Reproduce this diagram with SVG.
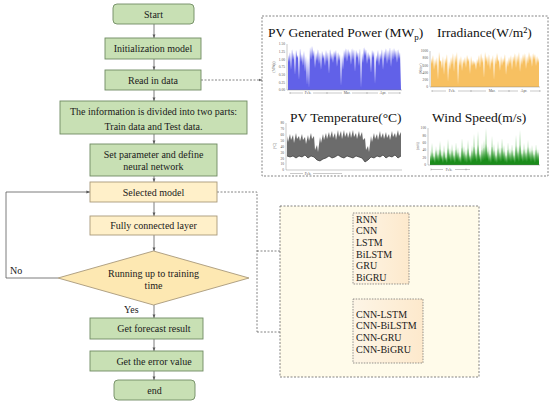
<svg xmlns="http://www.w3.org/2000/svg" width="550" height="405" viewBox="0 0 550 405">
<defs>
<style>
.g{fill:#c8e0b4;stroke:#6f8b62;stroke-width:0.9}
.y{fill:#fff0c9;stroke:#a8997a;stroke-width:0.9}
.t{font-family:"Liberation Serif","Times New Roman",serif;font-size:10px;fill:#1a1a1a;text-anchor:middle}
.tl{font-family:"Liberation Serif","Times New Roman",serif;font-size:10px;fill:#1a1a1a}
.ct{font-family:"Liberation Serif","Times New Roman",serif;font-size:13.5px;fill:#111}
.tk{font-family:"Liberation Serif","Times New Roman",serif;font-size:3.6px;fill:#555}
.tkr{font-family:"Liberation Serif","Times New Roman",serif;font-size:3.6px;fill:#555;text-anchor:end}
.ax{stroke:#777;stroke-width:0.4;fill:none}
.c{stroke:#5a5a5a;stroke-width:0.8;fill:none}
.d{stroke:#666;stroke-width:0.8;fill:none;stroke-dasharray:2,1.5}
</style>
<marker id="a" viewBox="0 0 6 6" refX="6" refY="3" markerWidth="4.5" markerHeight="4.5" orient="auto"><path d="M0,0.6 L6,3 L0,5.4 z" fill="#5a5a5a"/></marker>
<marker id="ad" viewBox="0 0 6 6" refX="6" refY="3" markerWidth="4" markerHeight="4" orient="auto"><path d="M0,0.6 L6,3 L0,5.4 z" fill="#666"/></marker>
<linearGradient id="ig" x1="0" y1="0" x2="1" y2="0"><stop offset="0" stop-color="#fdf5e6"/><stop offset="1" stop-color="#fde9cc"/></linearGradient>
</defs>
<rect width="550" height="405" fill="#fff"/>

<g id="connectors">
<line class="c" x1="154" y1="24" x2="154" y2="38" marker-end="url(#a)"/>
<line class="c" x1="154" y1="59" x2="154" y2="70" marker-end="url(#a)"/>
<line class="c" x1="154" y1="90" x2="154" y2="101" marker-end="url(#a)"/>
<line class="c" x1="154" y1="134" x2="154" y2="144" marker-end="url(#a)"/>
<line class="c" x1="154" y1="176" x2="154" y2="182" marker-end="url(#a)"/>
<line class="c" x1="154" y1="202" x2="154" y2="216" marker-end="url(#a)"/>
<line class="c" x1="154" y1="235" x2="154" y2="251" marker-end="url(#a)"/>
<line class="c" x1="154" y1="305" x2="154" y2="318" marker-end="url(#a)"/>
<line class="c" x1="154" y1="339" x2="154" y2="351" marker-end="url(#a)"/>
<line class="c" x1="154" y1="371" x2="154" y2="380" marker-end="url(#a)"/>
<polyline class="c" points="58,278 6,278 6,192 90,192" marker-end="url(#a)"/>
<text class="tl" x="10" y="274">No</text>
<text class="tl" x="124" y="313">Yes</text>
<line class="d" x1="201" y1="80" x2="262" y2="80" marker-end="url(#ad)"/>
<polyline class="d" points="217,192 257,192 257,332"/>
<line class="d" x1="257" y1="251" x2="353" y2="251" marker-end="url(#ad)"/>
<line class="d" x1="257" y1="332" x2="353" y2="332" marker-end="url(#ad)"/>
</g>

<g id="start"><rect class="g" x="113" y="4" width="81" height="20" rx="4"/><text class="t" x="153.5" y="17.5">Start</text></g>
<g id="init"><rect class="g" x="105" y="38" width="96" height="21"/><text class="t" x="153" y="52">Initialization model</text></g>
<g id="read"><rect class="g" x="105" y="70" width="96" height="20"/><text class="t" x="153" y="83.5">Read in data</text></g>
<g id="divide"><rect class="g" x="60" y="101" width="187" height="33"/><text class="t" x="153.5" y="115">The information is divided into two parts:</text><text class="t" x="153.5" y="129.5">Train data and Test data.</text></g>
<g id="setparam"><rect class="g" x="90" y="144" width="127" height="32"/><text class="t" x="153.5" y="157.5">Set parameter and define</text><text class="t" x="153.5" y="169.5">neural network</text></g>
<g id="selected"><rect class="y" x="90" y="182" width="127" height="20"/><text class="t" x="153.5" y="195.5">Selected model</text></g>
<g id="fully"><rect class="y" x="90" y="216" width="127" height="19"/><text class="t" x="153.5" y="229">Fully connected layer</text></g>
<g id="decision"><polygon points="153.5,251 249,278 153.5,305 58,278" fill="#fde8b2" stroke="#a8997a" stroke-width="0.9"/><text class="t" x="153.5" y="276.5">Running up to training</text><text class="t" x="153.5" y="289">time</text></g>
<g id="forecast"><rect class="g" x="90" y="318" width="113" height="21"/><text class="t" x="154" y="332">Get forecast result</text></g>
<g id="error"><rect class="g" x="90" y="351" width="113" height="20"/><text class="t" x="154" y="364.5">Get the error value</text></g>
<g id="end"><rect class="g" x="114" y="380" width="81" height="20" rx="4"/><text class="t" x="154.5" y="393.5">end</text></g>

<g id="data-panel">
<rect x="262" y="16" width="286" height="160" fill="#fff" stroke="#666" stroke-width="0.8" stroke-dasharray="2,1.5"/>
<text class="ct" x="268" y="37">PV Generated Power (MW<tspan font-size="9" dy="3">p</tspan><tspan dy="-3">)</tspan></text>
<text class="ct" x="437" y="37">Irradiance(W/m²)</text>
<text class="ct" x="290" y="122">PV Temperature(°C)</text>
<text class="ct" x="432" y="122">Wind Speed(m/s)</text>

<!-- chart 1 -->
<polygon fill="#5050e6" fill-opacity="0.9" points="288,90 288,55 289,62 290,52 291,70 292,49 293,60 294,53 295,75 296,50 297,58 298,55 299,80 300,48 301,62 302,54 303,66 304,51 305,72 306,56 307,85 308,58 309,88 310,47 311,60 312,46 313,57 314,50 315,68 316,53 317,61 318,49 319,64 320,52 321,70 322,51 323,59 324,54 325,66 326,50 327,62 328,52 329,74 330,49 331,60 332,53 333,63 334,51 335,58 336,50 337,67 338,52 339,61 340,54 341,86 342,55 343,70 344,50 345,59 346,48 347,62 348,49 349,57 350,51 351,65 352,48 353,60 354,49 355,72 356,50 357,58 358,52 359,66 360,48 361,88 362,53 363,63 364,47 365,56 366,49 367,64 368,52 369,60 370,54 371,73 372,50 373,58 374,51 375,84 376,55 377,62 378,50 379,66 380,53 381,60 382,49 383,70 384,51 385,59 386,48 387,64 388,50 389,61 390,47 391,67 392,49 393,60 394,48 395,58 396,50 397,63 398,49 399,59 400,52 401,90"/>
<path class="ax" d="M287,44 V90 H402 M290,93 H303 M313,93 H342 M352,93 H378 M388,93 H400 M290,92 V94 M327,92 V94 M367,92 V94 M400,92 V94"/>
<g class="tkr"><text x="285" y="45.2">1.50</text><text x="285" y="52.9">1.25</text><text x="285" y="60.5">1.00</text><text x="285" y="68.2">0.75</text><text x="285" y="75.9">0.50</text><text x="285" y="83.5">0.25</text><text x="285" y="91.2">0.00</text></g>
<text class="tk" transform="translate(275,67) rotate(-90)" text-anchor="middle">(MWp)</text>
<g class="tk" text-anchor="middle"><text x="308" y="94.3">Feb.</text><text x="347" y="94.3">Mar.</text><text x="383" y="94.3">Apr.</text></g>

<!-- chart 2 -->
<polygon fill="#f6b545" fill-opacity="0.85" points="431,87 431,58 432,64 433,55 434,70 435,59 436,66 437,57 438,80 439,52 440,62 441,60 442,69 443,56 444,75 445,58 446,64 447,54 448,82 449,61 450,70 451,57 452,65 453,53 454,72 455,55 456,63 457,52 458,85 459,58 460,66 461,56 462,71 463,59 464,64 465,57 466,68 467,55 468,62 469,58 470,74 471,56 472,66 473,60 474,65 475,61 476,70 477,59 478,64 479,55 480,68 481,53 482,63 483,57 484,78 485,52 486,62 487,56 488,66 489,54 490,70 491,58 492,64 493,55 494,80 495,57 496,65 497,53 498,62 499,59 500,71 501,56 502,66 503,58 504,63 505,54 506,75 507,60 508,67 509,57 510,64 511,55 512,70 513,56 514,62 515,53 516,68 517,55 518,63 519,52 520,72 521,57 522,65 523,54 524,62 525,53 526,69 527,56 528,64 529,52 530,61 531,55 532,67 533,53 534,60 535,54 536,66 537,56 538,63 539,58 539,87"/>
<path class="ax" d="M430,51 V87 H540 M432,91 H446 M458,91 H486 M498,91 H518 M530,91 H540 M432,90 V92 M471,90 V92 M509,90 V92 M540,90 V92"/>
<g class="tkr"><text x="428" y="52.2">1000</text><text x="428" y="59.4">800</text><text x="428" y="66.6">600</text><text x="428" y="73.8">400</text><text x="428" y="81">200</text><text x="428" y="88.2">0</text></g>
<text class="tk" transform="translate(422,69) rotate(-90)" text-anchor="middle">(W/m²)</text>
<g class="tk" text-anchor="middle"><text x="452" y="92.3">Feb.</text><text x="492" y="92.3">Mar.</text><text x="524" y="92.3">Apr.</text></g>

<!-- chart 3 -->
<polygon fill="#5c5c5c" fill-opacity="0.9" points="287,136 288,142 290,134 291,140 293,135 294,143 296,133 297,139 299,136 300,141 302,134 303,140 305,137 306,144 308,135 309,141 311,133 312,139 314,136 315,150 317,145 318,152 320,137 321,143 323,134 324,140 326,133 327,139 329,132 330,138 332,131 333,138 335,133 336,140 338,130 339,137 341,131 342,139 344,130 345,137 347,132 348,138 350,131 351,138 353,130 354,137 356,133 357,139 359,131 360,137 362,132 363,140 365,138 366,150 368,146 369,152 371,136 372,142 374,133 375,139 377,134 378,140 380,131 381,138 383,133 384,139 386,132 387,138 389,134 390,140 392,131 393,137 395,133 396,138 398,130 399,136 401,132 401,156 398,158 395,155 392,157 389,156 386,158 383,155 380,157 377,156 374,158 371,157 368,160 365,162 362,158 359,157 356,156 353,158 350,157 347,156 344,158 341,157 338,155 335,157 332,158 329,156 326,158 323,159 320,161 317,160 314,157 311,156 308,158 305,155 302,157 299,156 296,158 293,156 290,157 287,156"/>
<polyline fill="none" stroke="#222" stroke-width="0.6" points="287,156 290,157 293,156 296,158 299,156 302,157 305,155 308,158 311,156 314,157 317,160 320,161 323,159 326,158 329,156 332,158 335,157 338,155 341,157 344,158 347,156 350,157 353,158 356,156 359,157 362,158 365,162 368,160 371,157 374,158 377,156 380,157 383,155 386,158 389,156 392,157 395,155 398,158 401,156"/>
<path class="ax" d="M286,123 V170 H402 M290,173.5 H303 M313,173.5 H342"/>
<g class="tkr"><text x="284" y="124.2">80</text><text x="284" y="130.1">70</text><text x="284" y="136">60</text><text x="284" y="141.8">50</text><text x="284" y="147.7">40</text><text x="284" y="153.6">30</text><text x="284" y="159.5">20</text><text x="284" y="165.3">10</text><text x="284" y="171.2">0</text></g>
<text class="tk" transform="translate(276,146) rotate(-90)" text-anchor="middle">(°C)</text>
<text class="tk" x="308" y="174.8" text-anchor="middle">Feb.</text>

<!-- chart 4 -->
<polygon fill="#8fcf8c" fill-opacity="0.9" points="430,165 430,150 431,160 432,143 433,158 434,152 435,162 436,146 437,160 438,149 439,159 440,141 441,158 442,150 443,161 444,145 445,159 446,152 447,160 448,139 449,157 450,148 451,160 452,144 453,158 454,150 455,161 456,142 457,159 458,147 459,160 460,151 461,162 462,138 463,157 464,146 465,159 466,149 467,160 468,140 469,158 470,152 471,161 472,145 473,159 474,134 475,157 476,148 477,160 478,131 479,157 480,150 481,161 482,143 483,159 484,140 485,158 486,128 487,156 488,146 489,160 490,149 491,161 492,136 493,157 494,144 495,159 496,150 497,161 498,141 499,158 500,147 501,160 502,138 503,157 504,145 505,159 506,151 507,162 508,142 509,159 510,148 511,160 512,144 513,158 514,150 515,161 516,135 517,157 518,146 519,159 520,130 521,156 522,149 523,160 524,143 525,158 526,148 527,160 528,140 529,158 530,147 531,160 532,145 533,159 534,150 535,161 536,144 537,158 538,149 539,160 539,165"/>
<polygon fill="#1b8c1b" points="430,165 430,155 431,162 432,152 433,161 434,156 435,163 436,150 437,161 438,154 439,162 440,149 441,160 442,155 443,163 444,151 445,161 446,157 447,163 448,148 449,160 450,153 451,162 452,150 453,161 454,155 455,163 456,149 457,160 458,152 459,162 460,156 461,163 462,147 463,160 464,151 465,162 466,154 467,163 468,148 469,161 470,155 471,163 472,150 473,161 474,146 475,160 476,153 477,162 478,145 479,160 480,154 481,163 482,149 483,161 484,147 485,160 486,144 487,159 488,151 489,162 490,154 491,163 492,146 493,160 494,150 495,162 496,155 497,163 498,148 499,161 500,152 501,162 502,147 503,160 504,151 505,162 506,155 507,163 508,149 509,161 510,152 511,162 512,150 513,161 514,155 515,163 516,146 517,160 518,151 519,162 520,145 521,160 522,153 523,162 524,149 525,161 526,152 527,162 528,147 529,160 530,151 531,162 532,150 533,161 534,154 535,163 536,149 537,161 538,152 539,162 539,165"/>
<path class="ax" d="M428,128 V165 H540 M431,169.5 H443 M455,169.5 H470 M431,168.5 V170.5 M466,168.5 V170.5"/>
<g class="tkr"><text x="426" y="129.2">100</text><text x="426" y="136.6">80</text><text x="426" y="144">60</text><text x="426" y="151.4">40</text><text x="426" y="158.8">20</text><text x="426" y="166.2">0</text></g>
<text class="tk" transform="translate(419,146) rotate(-90)" text-anchor="middle">(m/s)</text>
<text class="tk" x="449" y="170.8" text-anchor="middle">Feb.</text>
</g>

<g id="models-panel">
<rect x="280" y="206" width="199" height="171" fill="#fffbea" stroke="#666" stroke-width="0.8" stroke-dasharray="2,1.5"/>
</g>
<g id="single-models">
<rect x="353" y="213" width="56" height="71" fill="url(#ig)" stroke="#666" stroke-width="0.7" stroke-dasharray="1.5,1.2"/>
<text class="tl" x="356" y="222.5">RNN</text>
<text class="tl" x="356" y="234.2">CNN</text>
<text class="tl" x="356" y="245.9">LSTM</text>
<text class="tl" x="356" y="257.6">BiLSTM</text>
<text class="tl" x="356" y="269.3">GRU</text>
<text class="tl" x="356" y="281">BiGRU</text>
</g>
<g id="hybrid-models">
<rect x="353" y="299" width="70" height="64" fill="url(#ig)" stroke="#666" stroke-width="0.7" stroke-dasharray="1.5,1.2"/>
<text class="tl" x="356" y="317.5">CNN-LSTM</text>
<text class="tl" x="356" y="329">CNN-BiLSTM</text>
<text class="tl" x="356" y="340.8">CNN-GRU</text>
<text class="tl" x="356" y="352.5">CNN-BiGRU</text>
</g>
</svg>
